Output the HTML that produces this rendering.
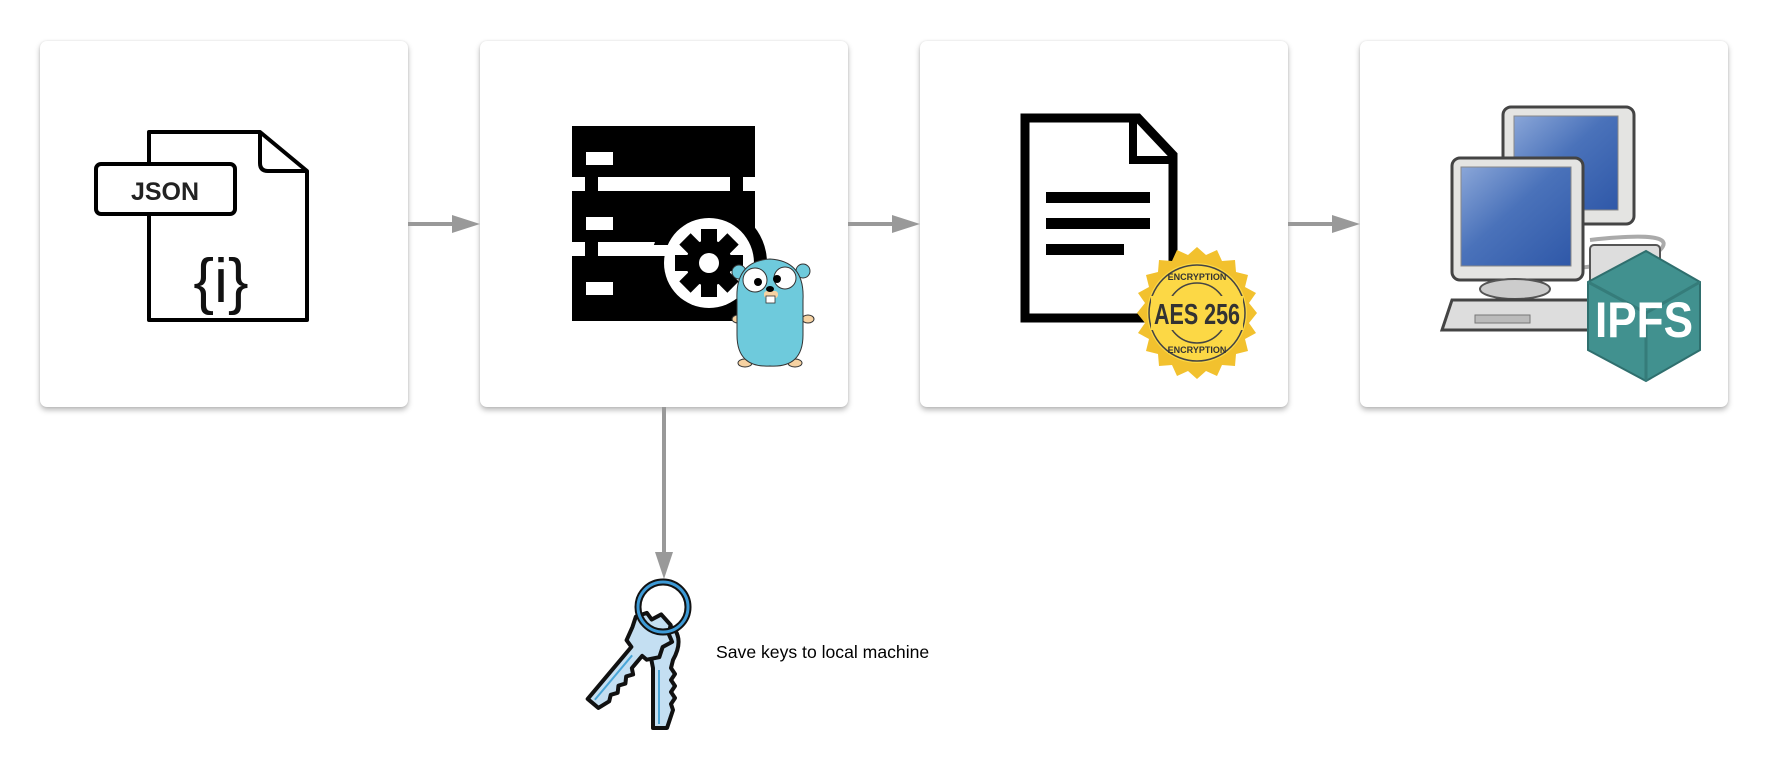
<!DOCTYPE html>
<html><head><style>
html,body{margin:0;padding:0;background:#fff;width:1767px;height:770px;overflow:hidden}
.card{position:absolute;top:41px;width:368px;height:366px;background:#fff;border-radius:7px;box-shadow:0 3px 6px rgba(0,0,0,0.28),0 0 2px rgba(0,0,0,0.1)}
svg{position:absolute;left:0;top:0}
</style></head><body>
<div class="card" style="left:40px"></div>
<div class="card" style="left:480px"></div>
<div class="card" style="left:920px"></div>
<div class="card" style="left:1360px"></div>
<svg width="1767" height="770" viewBox="0 0 1767 770" font-family="Liberation Sans, sans-serif">
<!-- connectors -->
<g fill="#999" stroke="none">
<rect x="408" y="222" width="46" height="4"/><polygon points="452,215 480,224 452,233"/>
<rect x="848" y="222" width="46" height="4"/><polygon points="892,215 920,224 892,233"/>
<rect x="1288" y="222" width="46" height="4"/><polygon points="1332,215 1360,224 1332,233"/>
<rect x="662" y="407" width="4" height="148"/><polygon points="655,552 664,579 673,552"/>
</g>
<!-- JSON file -->
<g fill="none" stroke="#000" stroke-width="4" stroke-linejoin="round">
<path d="M149,164 V132 H260 L307,171 V320 H149 V214"/>
<path d="M260,132 V163 Q260,171 268,171 H307"/>
<rect x="96" y="164" width="139" height="50" rx="5" fill="#fff"/>
</g>
<text x="165" y="200" font-size="25" font-weight="bold" text-anchor="middle" fill="#222">JSON</text>
<text x="221" y="302" font-size="62" text-anchor="middle" fill="#111">{i}</text>
<!-- server -->
<g fill="#000">
<rect x="572" y="126" width="183" height="51"/>
<rect x="572" y="191" width="183" height="51"/>
<rect x="572" y="256" width="183" height="65"/>
<rect x="585" y="175" width="13" height="20"/><rect x="730" y="175" width="13" height="20"/>
<rect x="585" y="240" width="13" height="20"/>
<circle cx="709" cy="263" r="58"/>
</g>
<g fill="#fff">
<rect x="586" y="152" width="27" height="13"/><rect x="586" y="217" width="27" height="13"/><rect x="586" y="282" width="27" height="13"/>
<rect x="598" y="180" width="132" height="11"/>
<rect x="598" y="245" width="75" height="11"/>
<circle cx="709" cy="263" r="45"/>
</g>
<g fill="#000">
<circle cx="709" cy="263" r="23"/>
<g transform="translate(709,263)">
<rect x="-8" y="-34" width="16" height="68"/><rect x="-34" y="-8" width="68" height="16"/>
<rect x="-8" y="-34" width="16" height="68" transform="rotate(45)"/><rect x="-8" y="-34" width="16" height="68" transform="rotate(-45)"/>
</g></g>
<circle cx="709" cy="263" r="10" fill="#fff"/>
<!-- gopher -->
<g stroke="#333" stroke-width="1">
<ellipse cx="738" cy="319" rx="6" ry="4" fill="#f6d2a2"/><ellipse cx="808" cy="319" rx="6" ry="4" fill="#f6d2a2"/>
<ellipse cx="745" cy="363" rx="7" ry="4" fill="#f6d2a2"/><ellipse cx="795" cy="363" rx="7" ry="4" fill="#f6d2a2"/>
<circle cx="739" cy="272" r="7" fill="#6ecadc"/><circle cx="803" cy="271" r="7" fill="#6ecadc"/>
<path d="M737,300 Q735,261 770,259 Q805,261 803,300 L803,335 Q803,368 770,366 Q737,368 737,335 Z" fill="#6ecadc"/>
<circle cx="755" cy="280" r="12" fill="#fff"/><circle cx="785" cy="278" r="11" fill="#fff"/>
</g>
<circle cx="758" cy="282" r="4" fill="#000"/><circle cx="777" cy="279" r="4" fill="#000"/>
<rect x="764" y="291" width="14" height="7" rx="3" fill="#f6d2a2"/><ellipse cx="770" cy="289" rx="4" ry="3" fill="#000"/>
<rect x="766" y="296" width="9" height="7" fill="#fff" stroke="#333" stroke-width="0.8"/>
<!-- document -->
<g fill="none" stroke="#000" stroke-width="9" stroke-linejoin="miter">
<path d="M1025,118 H1138 L1173,155 V318 H1025 Z"/>
</g>
<path d="M1133,116 V160 H1176" fill="none" stroke="#000" stroke-width="8"/>
<g fill="#000"><rect x="1046" y="192" width="104" height="11"/><rect x="1046" y="218" width="104" height="11"/><rect x="1046" y="244" width="78" height="11"/></g>
<!-- badge -->
<g transform="translate(1197,313)">
<polygon fill="#f2c12e" points="0,-66 9,-58 20,-63 25,-52 38,-53 39,-41 51,-38 48,-26 59,-20 52,-10 60,0 52,10 59,20 48,26 51,38 39,41 38,53 25,52 20,63 9,58 0,66 -9,58 -20,63 -25,52 -38,53 -39,41 -51,38 -48,26 -59,20 -52,10 -60,0 -52,-10 -59,-20 -48,-26 -51,-38 -39,-41 -38,-53 -25,-52 -20,-63 -9,-58"/>
<circle r="50" fill="#fcd845"/>
<circle r="48" fill="none" stroke="#444" stroke-width="1.5"/>
<circle r="30" fill="none" stroke="#444" stroke-width="1.5"/>
<rect x="-46" y="-17" width="92" height="34" fill="#fcd845"/>
<text y="11" font-size="29" font-weight="bold" text-anchor="middle" fill="#333" textLength="86" lengthAdjust="spacingAndGlyphs">AES 256</text>
<text y="-33" font-size="9" font-weight="bold" text-anchor="middle" fill="#333">ENCRYPTION</text>
<text y="40" font-size="9" font-weight="bold" text-anchor="middle" fill="#333">ENCRYPTION</text>
</g>
<!-- computers -->
<defs><linearGradient id="scr" x1="0" y1="0" x2="1" y2="1"><stop offset="0" stop-color="#8aa6d8"/><stop offset="0.45" stop-color="#4a72ba"/><stop offset="1" stop-color="#2f58a8"/></linearGradient></defs>
<path d="M1590,240 Q1680,230 1660,250 Q1640,262 1560,270" fill="none" stroke="#aaa" stroke-width="4"/>
<rect x="1590" y="245" width="70" height="40" rx="4" fill="#ddd" stroke="#555" stroke-width="2"/>
<rect x="1503" y="107" width="131" height="117" rx="8" fill="#e4e4e2" stroke="#444" stroke-width="3"/>
<rect x="1514" y="116" width="104" height="94" fill="url(#scr)" stroke="#888" stroke-width="1"/>
<ellipse cx="1560" cy="232" rx="22" ry="8" fill="#ccc" stroke="#555" stroke-width="2"/>
<rect x="1452" y="158" width="131" height="122" rx="8" fill="#e4e4e2" stroke="#444" stroke-width="3"/>
<rect x="1461" y="167" width="110" height="99" fill="url(#scr)" stroke="#888" stroke-width="1"/>
<ellipse cx="1515" cy="289" rx="35" ry="10" fill="#ccc" stroke="#555" stroke-width="2"/>
<path d="M1452,300 H1595 L1598,330 H1442 Z" fill="#ddd" stroke="#444" stroke-width="3"/>
<rect x="1475" y="315" width="55" height="8" fill="#bbb" stroke="#777"/>
<!-- IPFS -->
<polygon points="1646,251 1700,282 1700,350 1646,381 1588,350 1588,282" fill="#41918f" stroke="#2f6f6e" stroke-width="2"/>
<path d="M1588,282 L1646,313 L1700,282 M1646,313 V381" stroke="#357c7a" stroke-width="3" fill="none"/>
<text x="1644" y="337" font-size="50" font-weight="bold" fill="#fff" text-anchor="middle" textLength="98" lengthAdjust="spacingAndGlyphs">IPFS</text>
<!-- keys -->
<g stroke="#111" stroke-width="4" stroke-linejoin="round" fill="#c4dff2">
<!-- key 2 vertical (behind) -->
<g transform="translate(661,648)">
<path d="M-10,10 Q-20,-8 -8,-20 Q4,-28 14,-18 Q22,-6 12,12 L10,20 L14,26 L10,32 L14,38 L10,44 L14,50 L10,56 L12,62 L6,80 L-8,80 L-8,20 Z"/>
<path d="M-2,22 V76" stroke="#4aa6d8" stroke-width="2" fill="none"/>
</g>
<!-- key 1 tilted -->
<g transform="translate(645,640) rotate(40)">
<path d="M-18,-2 L-22,-12 L-16,-22 L-8,-20 L-4,-30 L10,-28 L14,-20 L22,-16 L18,-6 L22,4 L14,14 L8,14 L8,30 L13,34 L9,40 L13,46 L9,52 L13,58 L9,64 L12,70 L8,82 L-6,82 L-6,14 L-14,12 Z"/>
<path d="M0,20 V78" stroke="#4aa6d8" stroke-width="2" fill="none"/>
</g>
</g>
<circle cx="663" cy="607" r="25" fill="none" stroke="#111" stroke-width="7"/>
<circle cx="663" cy="607" r="25" fill="none" stroke="#3d9ad6" stroke-width="3"/>
<text x="716" y="658" font-size="17.6" fill="#000">Save keys to local machine</text>
</svg>
</body></html>
